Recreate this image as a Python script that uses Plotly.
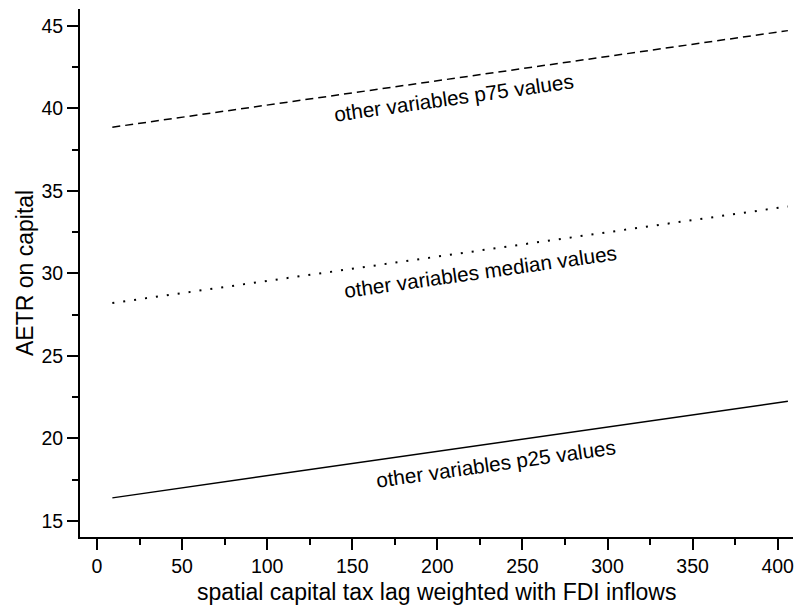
import plotly.graph_objects as go

# Predicted AETR at the two ends of the spatial lag range
x_vals = [9, 406]
p25_vals = [16.4, 22.25]
median_vals = [28.2, 34.05]
p75_vals = [38.85, 44.7]

series_names = ["other variables p25 values", "other variables median values", "other variables p75 values"]
series_dash = ["solid", "2px,9px", "8px,5px"]
series_width = [1.5, 2, 1.5]

# label anchor points (data coordinates) and rotation
label_x = [234.4, 225.5, 209.7]
label_y = [18.5, 30.1, 40.65]
label_angle = -8

x_ticks = [0, 50, 100, 150, 200, 250, 300, 350, 400]
y_ticks = [15, 20, 25, 30, 35, 40, 45]

FONT = "Liberation Sans, Arial, sans-serif"
ML, MR, MT, MB = 80, 7, 9, 68
W, H = 800, 605

fig = go.Figure()
for vals, dash, w in zip([p25_vals, median_vals, p75_vals], series_dash, series_width):
    fig.add_trace(go.Scatter(
        x=x_vals, y=vals, mode="lines",
        line=dict(color="black", width=w, dash=dash),
        showlegend=False, hoverinfo="skip",
    ))

for name, lx, ly in zip(series_names, label_x, label_y):
    fig.add_annotation(
        x=lx, y=ly, xref="x", yref="y", text=name, showarrow=False,
        textangle=label_angle, font=dict(family=FONT, size=20.7, color="black"),
    )

axis_common = dict(
    showline=True, linecolor="black", linewidth=2,
    ticks="outside", ticklen=11, tickwidth=2, tickcolor="black",
    showgrid=False, zeroline=False,
    tickfont=dict(family=FONT, size=19.5, color="black"),
)

fig.update_xaxes(
    range=[-10, 409], tickvals=x_ticks, **axis_common,
    minor=dict(ticks="outside", ticklen=6, tickwidth=2, tickcolor="black", dtick=25, tick0=0, showgrid=False),
)
fig.update_yaxes(
    range=[14.03, 46.01], tickvals=y_ticks, **axis_common,
    minor=dict(ticks="outside", ticklen=6, tickwidth=2, tickcolor="black", dtick=2.5, tick0=0, showgrid=False),
)

# axis titles placed by pixel position, converted to paper coordinates
pw, ph = W - ML - MR, H - MT - MB


def to_paper(px, py):
    return (px - ML) / pw, 1 - (py - MT) / ph


tx, ty = to_paper(436, 592)
fig.add_annotation(
    x=tx, y=ty, xref="paper", yref="paper", xanchor="center", yanchor="middle",
    text="spatial capital tax lag weighted with FDI inflows",
    showarrow=False, font=dict(family=FONT, size=23, color="black"),
)
tx, ty = to_paper(25, 273)
fig.add_annotation(
    x=tx, y=ty, xref="paper", yref="paper", xanchor="center", yanchor="middle",
    text="AETR on capital", textangle=-90,
    showarrow=False, font=dict(family=FONT, size=23, color="black"),
)

fig.update_layout(
    width=W, height=H,
    margin=dict(l=ML, r=MR, t=MT, b=MB),
    paper_bgcolor="white", plot_bgcolor="white",
)

fig.write_html("out.html")
